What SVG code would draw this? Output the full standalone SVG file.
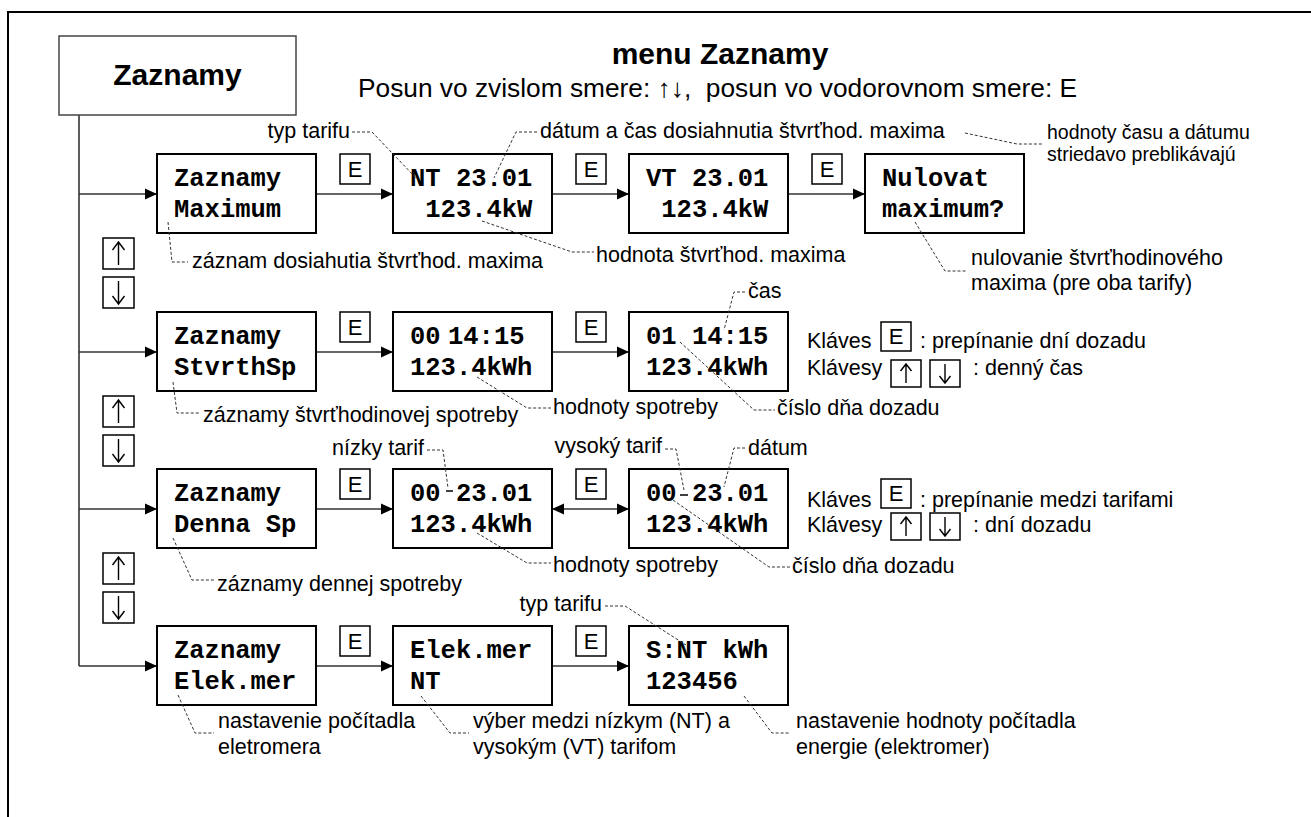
<svg xmlns="http://www.w3.org/2000/svg" width="1311" height="817" viewBox="0 0 1311 817">
<defs>
<marker id="ah" viewBox="0 0 12 12" refX="12" refY="6" markerWidth="12" markerHeight="12" markerUnits="userSpaceOnUse" orient="auto-start-reverse"><path d="M0,0.5 L12,6 L0,11.5 Z" fill="#000"/></marker>
</defs>
<style>
.box{fill:#fff;stroke:#000;stroke-width:2}
.key{fill:#fff;stroke:#000;stroke-width:1.5}
.m{font-family:"Liberation Mono","Courier New",monospace;font-weight:bold;font-size:25.5px;fill:#000}
.a{font-family:"Liberation Sans",Arial,sans-serif;font-size:21.5px;fill:#000}
.s{font-family:"Liberation Sans",Arial,sans-serif;font-size:19.5px;fill:#000}
.k{font-family:"Liberation Sans",Arial,sans-serif;font-size:22px;text-anchor:middle;fill:#000}
.ld{fill:none;stroke:#333;stroke-width:1;stroke-dasharray:3 2}
.tk{fill:none;stroke:#000;stroke-width:1.5}
.c{fill:none;stroke:#333;stroke-width:1.6}
.ar{fill:none;stroke:#000;stroke-width:1.4}
</style>
<rect width="1311" height="817" fill="#fff"/>
<path d="M8,817 V12 H1311" fill="none" stroke="#000" stroke-width="2"/>

<g id="title">
<text x="720" y="64" font-family="Liberation Sans, Arial, sans-serif" font-weight="bold" font-size="30" text-anchor="middle">menu Zaznamy</text>
<text x="358" y="97" font-family="Liberation Sans, DejaVu Sans, sans-serif" font-size="26.3" xml:space="preserve">Posun vo zvislom smere: ↑↓,  posun vo vodorovnom smere: E</text>
</g>

<g id="connectors">
<path class="c" d="M79,115 V666"/>
<path class="c" d="M79,194 H157" marker-end="url(#ah)"/>
<path class="c" d="M316,194 H393" marker-end="url(#ah)"/>
<path class="c" d="M552,194 H629" marker-end="url(#ah)"/>
<path class="c" d="M788,194 H865" marker-end="url(#ah)"/>
<path class="c" d="M79,352 H157" marker-end="url(#ah)"/>
<path class="c" d="M316,352 H393" marker-end="url(#ah)"/>
<path class="c" d="M552,352 H629" marker-end="url(#ah)"/>
<path class="c" d="M79,509 H157" marker-end="url(#ah)"/>
<path class="c" d="M316,509 H393" marker-end="url(#ah)"/>
<path class="c" d="M552,509 H629" marker-start="url(#ah)" marker-end="url(#ah)"/>
<path class="c" d="M79,666 H157" marker-end="url(#ah)"/>
<path class="c" d="M316,666 H393" marker-end="url(#ah)"/>
<path class="c" d="M552,666 H629" marker-end="url(#ah)"/>
</g>

<g id="node-zaznamy">
<rect x="59" y="36" width="237" height="79" fill="#fff" stroke="#444" stroke-width="1.5"/>
<text x="177.5" y="85" font-family="Liberation Sans, Arial, sans-serif" font-weight="bold" font-size="30" text-anchor="middle">Zaznamy</text>
</g>

<g id="node-maximum"><rect class="box" x="157" y="154" width="159" height="79"/><text class="m" x="174" y="186">Zaznamy</text><text class="m" x="174" y="217">Maximum</text></g>
<g id="node-nt"><rect class="box" x="393" y="154" width="159" height="79"/><text class="m" x="410" y="186">NT 23.01</text><text class="m" x="425.3" y="217">123.4kW</text></g>
<g id="node-vt"><rect class="box" x="629" y="154" width="159" height="79"/><text class="m" x="646" y="186">VT 23.01</text><text class="m" x="661.3" y="217">123.4kW</text></g>
<g id="node-nulovat"><rect class="box" x="865" y="154" width="159" height="79"/><text class="m" x="882" y="186">Nulovat</text><text class="m" x="882" y="217">maximum?</text></g>

<g id="node-stvrthsp"><rect class="box" x="157" y="312" width="159" height="79"/><text class="m" x="174" y="344">Zaznamy</text><text class="m" x="174" y="375">StvrthSp</text></g>
<g id="node-stv00"><rect class="box" x="393" y="312" width="159" height="79"/><text class="m" x="410" y="344">00</text><text class="m" x="448" y="344">14:15</text><text class="m" x="410" y="375">123.4kWh</text></g>
<g id="node-stv01"><rect class="box" x="629" y="312" width="159" height="79"/><text class="m" x="646" y="344">01 14:15</text><text class="m" x="646" y="375">123.4kWh</text></g>

<g id="node-denna"><rect class="box" x="157" y="469" width="159" height="79"/><text class="m" x="174" y="501">Zaznamy</text><text class="m" x="174" y="532">Denna Sp</text></g>
<g id="node-den-nt"><rect class="box" x="393" y="469" width="159" height="79"/><text class="m" x="410" y="501">00 23.01</text><text class="m" x="410" y="532">123.4kWh</text></g>
<g id="node-den-vt"><rect class="box" x="629" y="469" width="159" height="79"/><text class="m" x="646" y="501">00 23.01</text><text class="m" x="646" y="532">123.4kWh</text></g>

<g id="node-elekmer"><rect class="box" x="157" y="626" width="159" height="79"/><text class="m" x="174" y="658">Zaznamy</text><text class="m" x="174" y="689">Elek.mer</text></g>
<g id="node-elek-nt"><rect class="box" x="393" y="626" width="159" height="79"/><text class="m" x="410" y="658">Elek.mer</text><text class="m" x="410" y="689">NT</text></g>
<g id="node-elek-val"><rect class="box" x="629" y="626" width="159" height="79"/><text class="m" x="646" y="658">S:NT kWh</text><text class="m" x="646" y="689">123456</text></g>

<g id="keys-e">
<rect class="key" x="340" y="154" width="30" height="30"/><text class="k" x="355" y="177">E</text>
<rect class="key" x="576" y="154" width="30" height="30"/><text class="k" x="591" y="177">E</text>
<rect class="key" x="812" y="154" width="30" height="30"/><text class="k" x="827" y="177">E</text>
<rect class="key" x="340" y="312" width="30" height="30"/><text class="k" x="355" y="335">E</text>
<rect class="key" x="576" y="312" width="30" height="30"/><text class="k" x="591" y="335">E</text>
<rect class="key" x="340" y="469" width="30" height="30"/><text class="k" x="355" y="492">E</text>
<rect class="key" x="576" y="469" width="30" height="30"/><text class="k" x="591" y="492">E</text>
<rect class="key" x="340" y="626" width="30" height="30"/><text class="k" x="355" y="649">E</text>
<rect class="key" x="576" y="626" width="30" height="30"/><text class="k" x="591" y="649">E</text>
</g>

<g id="keys-updown">
<rect class="key" x="103" y="238" width="31" height="31"/><path class="ar" d="M118.5,265 V242 M112.5,250 L118.5,242 L124.5,250"/>
<rect class="key" x="103" y="277" width="31" height="31"/><path class="ar" d="M118.5,281 V304 M112.5,296 L118.5,304 L124.5,296"/>
<rect class="key" x="103" y="396" width="31" height="31"/><path class="ar" d="M118.5,423 V400 M112.5,408 L118.5,400 L124.5,408"/>
<rect class="key" x="103" y="435" width="31" height="31"/><path class="ar" d="M118.5,439 V462 M112.5,454 L118.5,462 L124.5,454"/>
<rect class="key" x="103" y="553" width="31" height="31"/><path class="ar" d="M118.5,580 V557 M112.5,565 L118.5,557 L124.5,565"/>
<rect class="key" x="103" y="592" width="31" height="31"/><path class="ar" d="M118.5,596 V619 M112.5,611 L118.5,619 L124.5,611"/>
</g>

<g id="legend-stvrth">
<text class="a" x="807" y="348">Kláves</text>
<rect class="key" x="881" y="322" width="30" height="29"/><text class="k" x="896" y="344">E</text>
<text class="a" x="920" y="348">: prepínanie dní dozadu</text>
<text class="a" x="807" y="375">Klávesy</text>
<rect class="key" x="891" y="360" width="30" height="27"/><path class="ar" d="M906,383 V364 M900.5,371 L906,364 L911.5,371"/>
<rect class="key" x="930" y="360" width="30" height="27"/><path class="ar" d="M945,364 V383 M939.5,376 L945,383 L950.5,376"/>
<text class="a" x="973" y="375">: denný čas</text>
</g>

<g id="legend-denna">
<text class="a" x="807" y="507">Kláves</text>
<rect class="key" x="881" y="479" width="30" height="29"/><text class="k" x="896" y="501">E</text>
<text class="a" x="920" y="507">: prepínanie medzi tarifami</text>
<text class="a" x="807" y="532">Klávesy</text>
<rect class="key" x="891" y="513" width="30" height="27"/><path class="ar" d="M906,536 V517 M900.5,524 L906,517 L911.5,524"/>
<rect class="key" x="930" y="513" width="30" height="27"/><path class="ar" d="M945,517 V536 M939.5,529 L945,536 L950.5,529"/>
<text class="a" x="973" y="532">: dní dozadu</text>
</g>

<g id="annotations">
<text class="a" x="350" y="138" text-anchor="end">typ tarifu</text>
<path class="ld" d="M352,132 H372 L416,178"/>
<text class="a" x="540" y="138">dátum a čas dosiahnutia štvrťhod. maxima</text>
<path class="ld" d="M537,132 H516 L494,178"/>
<path class="ld" d="M965,133 L1017,144 H1043"/>
<text class="s" x="1047" y="139">hodnoty času a dátumu</text>
<text class="s" x="1047" y="161">striedavo preblikávajú</text>
<text class="a" x="192" y="268">záznam dosiahutia štvrťhod. maxima</text>
<path class="ld" d="M168,222 L172,262 H188"/>
<text class="a" x="596" y="262">hodnota štvrťhod. maxima</text>
<path class="ld" d="M482,221 L572,252 H594"/>
<text class="a" x="971" y="265">nulovanie štvrťhodinového</text>
<text class="a" x="971" y="290">maxima (pre oba tarify)</text>
<path class="ld" d="M915,222 L945,271 H967"/>

<text class="a" x="748" y="298">čas</text>
<path class="ld" d="M745,292 H734 L724,330"/>
<text class="a" x="777" y="415">číslo dňa dozadu</text>
<path class="ld" d="M680,342 L754,410 H775"/>
<text class="a" x="553" y="414">hodnoty spotreby</text>
<path class="ld" d="M477,377 L527,408 H551"/>
<text class="a" x="203" y="422">záznamy štvrťhodinovej spotreby</text>
<path class="ld" d="M173,382 L177,413 H200"/>

<text class="a" x="332" y="455">nízky tarif</text>
<path class="ld" d="M427,450 H443 L448,488"/>
<path class="tk" d="M446,491 H453"/>
<text class="a" x="662" y="453" text-anchor="end">vysoký tarif</text>
<path class="ld" d="M665,449 H676 L684,490"/>
<path class="tk" d="M680,495 H688"/>
<text class="a" x="748" y="455">dátum</text>
<path class="ld" d="M745,448 H734 L724,487"/>
<text class="a" x="792" y="573">číslo dňa dozadu</text>
<path class="ld" d="M673,500 L769,567 H790"/>
<text class="a" x="553" y="572">hodnoty spotreby</text>
<path class="ld" d="M477,533 L527,563 H551"/>
<text class="a" x="217" y="591">záznamy dennej spotreby</text>
<path class="ld" d="M173,538 L192,580 H215"/>

<text class="a" x="602" y="611" text-anchor="end">typ tarifu</text>
<path class="ld" d="M605,606 H625 L686,645"/>
<text class="a" x="218" y="728">nastavenie počítadla</text>
<text class="a" x="218" y="754">eletromera</text>
<path class="ld" d="M178,695 L195,733 H214"/>
<text class="a" x="473" y="728">výber medzi nízkym (NT) a</text>
<text class="a" x="473" y="754">vysokým (VT) tarifom</text>
<path class="ld" d="M421,696 L450,733 H469"/>
<text class="a" x="796" y="728">nastavenie hodnoty počítadla</text>
<text class="a" x="796" y="754">energie (elektromer)</text>
<path class="ld" d="M744,696 L772,733 H790"/>
</g>
</svg>
